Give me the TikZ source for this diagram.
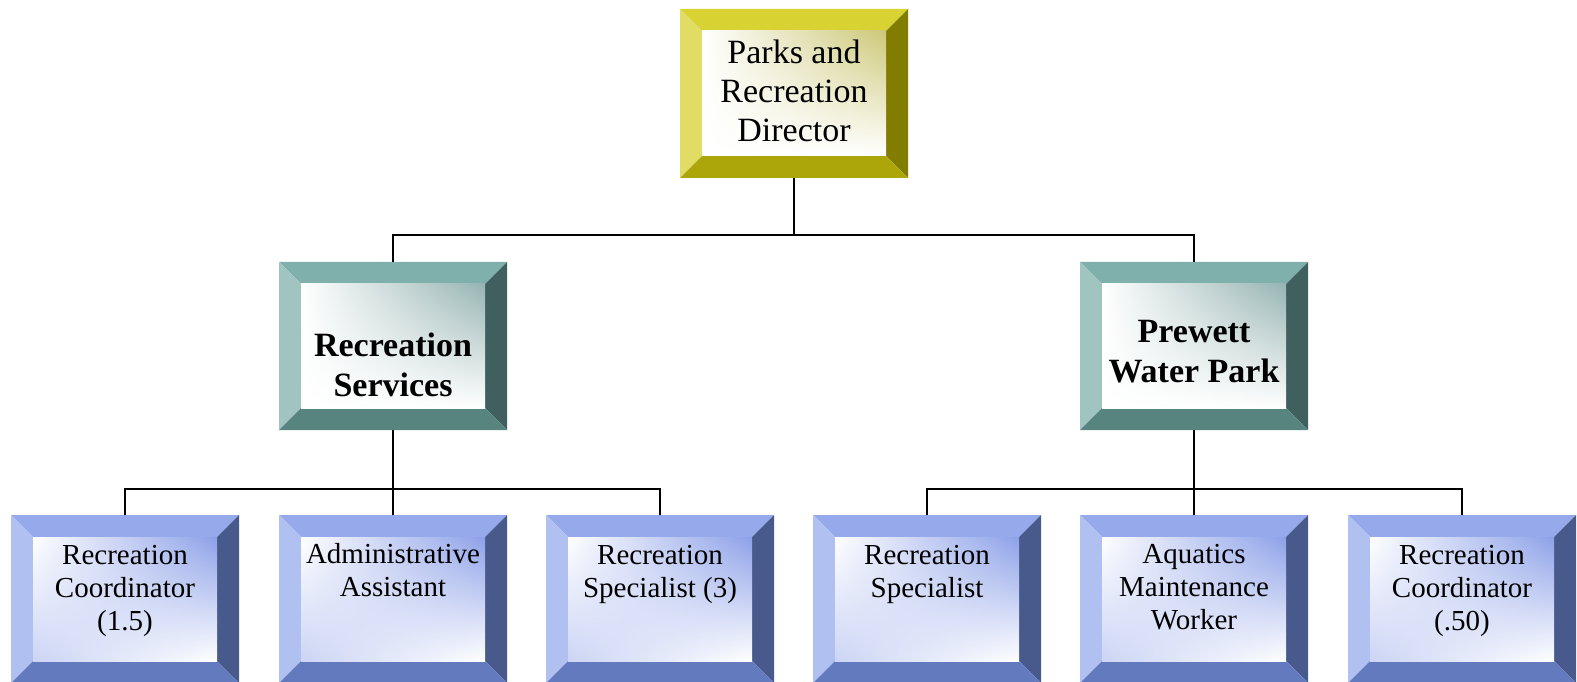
\documentclass[tikz,border=0pt]{standalone}
\usepackage{fontspec}
\setmainfont{Liberation Serif}
\usetikzlibrary{calc,shadings}
\definecolor{yT}{RGB}{216,210,50}
\definecolor{yL}{RGB}{224,220,100}
\definecolor{yR}{RGB}{130,125,0}
\definecolor{yB}{RGB}{172,166,10}
\definecolor{yI}{RGB}{205,200,120}
\definecolor{tT}{RGB}{128,176,172}
\definecolor{tL}{RGB}{160,196,192}
\definecolor{tR}{RGB}{64,96,96}
\definecolor{tB}{RGB}{88,132,128}
\definecolor{tI}{RGB}{150,180,178}
\definecolor{bT}{RGB}{150,170,235}
\definecolor{bL}{RGB}{176,192,240}
\definecolor{bR}{RGB}{72,90,140}
\definecolor{bB}{RGB}{100,122,190}
\definecolor{bI}{RGB}{140,160,232}
\def\bv{22pt}
\tikzset{
  bevbox/.style n args={6}{fill=white, draw=none, minimum width=228pt, minimum height=168pt, inner sep=0pt, outer sep=0pt,
    path picture={
      \path (path picture bounding box.north west) coordinate (bbnw)
            (path picture bounding box.north east) coordinate (bbne)
            (path picture bounding box.south west) coordinate (bbsw)
            (path picture bounding box.south east) coordinate (bbse);
      \fill[#1] (bbnw) -- (bbne) -- ([xshift=-\bv,yshift=-\bv]bbne) -- ([xshift=\bv,yshift=-\bv]bbnw) -- cycle;
      \fill[#2] (bbnw) -- (bbsw) -- ([xshift=\bv,yshift=\bv]bbsw) -- ([xshift=\bv,yshift=-\bv]bbnw) -- cycle;
      \fill[#3] (bbne) -- (bbse) -- ([xshift=-\bv,yshift=\bv]bbse) -- ([xshift=-\bv,yshift=-\bv]bbne) -- cycle;
      \fill[#4] (bbsw) -- (bbse) -- ([xshift=-\bv,yshift=\bv]bbse) -- ([xshift=\bv,yshift=\bv]bbsw) -- cycle;
      \shade[upper right=#5, upper left=white, lower right=white, lower left=#6]
        ([xshift=\bv,yshift=\bv]bbsw) rectangle ([xshift=-\bv,yshift=-\bv]bbne);
    }},
  ybox/.style={bevbox={yT}{yL}{yR}{yB}{yI}{white}, minimum height=169pt},
  tbox/.style={bevbox={tT}{tL}{tR}{tB}{tI}{white}},
  bbox/.style={bevbox={bT}{bL}{bR}{bB}{bI}{bI!45!white}},
  toptxt/.style={align=center, font=\fontsize{34pt}{39pt}\selectfont, inner sep=0pt},
  midtxt/.style={align=center, font=\fontsize{34pt}{40pt}\selectfont\bfseries, inner sep=0pt},
  bottxt/.style={align=center, font=\fontsize{29pt}{33pt}\selectfont, inner sep=0pt},
  conn/.style={draw=black, line width=1.5pt}
}
\begin{document}
\begin{tikzpicture}[x=1pt,y=1pt]
\useasboundingbox (0,0) rectangle (1577,681);
% boxes
\node[ybox] (dir) at (794,587.5) {};
\node[tbox] (rs) at (393,335) {};
\node[tbox] (pw) at (1194,335) {};
\node[bbox] (b1) at (125,82) {};
\node[bbox] (b2) at (393,82) {};
\node[bbox] (b3) at (660,82) {};
\node[bbox] (b4) at (927,82) {};
\node[bbox] (b5) at (1194,82) {};
\node[bbox] (b6) at (1462,82) {};
% texts
\node[toptxt] (tdir) at ($(dir.center)+(0,3)$) {Parks and\\Recreation\\Director};
\node[midtxt] (trs) at ($(rs.center)+(0,-19)$) {Recreation\\Services};
\node[midtxt] (tpw) at ($(pw.center)+(0,-6)$) {Prewett\\Water Park};
\node[bottxt] (tb1) at ($(b1.center)+(0,8.5)$) {Recreation\\Coordinator\\(1.5)};
\node[bottxt] (tb2) at ($(b2.center)+(0,28.5)$) {Administrative\\Assistant};
\node[bottxt] (tb3) at ($(b3.center)+(0,25)$) {Recreation\\Specialist (3)};
\node[bottxt] (tb4) at ($(b4.center)+(0,25)$) {Recreation\\Specialist};
\node[bottxt] (tb5) at ($(b5.center)+(0,11.5)$) {Aquatics\\Maintenance\\Worker};
\node[bottxt] (tb6) at ($(b6.center)+(0,8.5)$) {Recreation\\Coordinator\\(.50)};
% connectors
\coordinate (bus1) at (0,446);
\coordinate (bus2) at (0,192);
\draw[conn] (dir.south) -- (dir.south |- bus1);
\draw[conn] (rs.north) |- (dir.south |- bus1) -| (pw.north);
\draw[conn] (rs.south) -- (rs.south |- bus2);
\draw[conn] (b1.north) |- (rs.south |- bus2) -| (b3.north);
\draw[conn] (b2.north) -- (rs.south |- bus2);
\draw[conn] (pw.south) -- (pw.south |- bus2);
\draw[conn] (b4.north) |- (pw.south |- bus2) -| (b6.north);
\draw[conn] (b5.north) -- (pw.south |- bus2);
\end{tikzpicture}
\end{document}
